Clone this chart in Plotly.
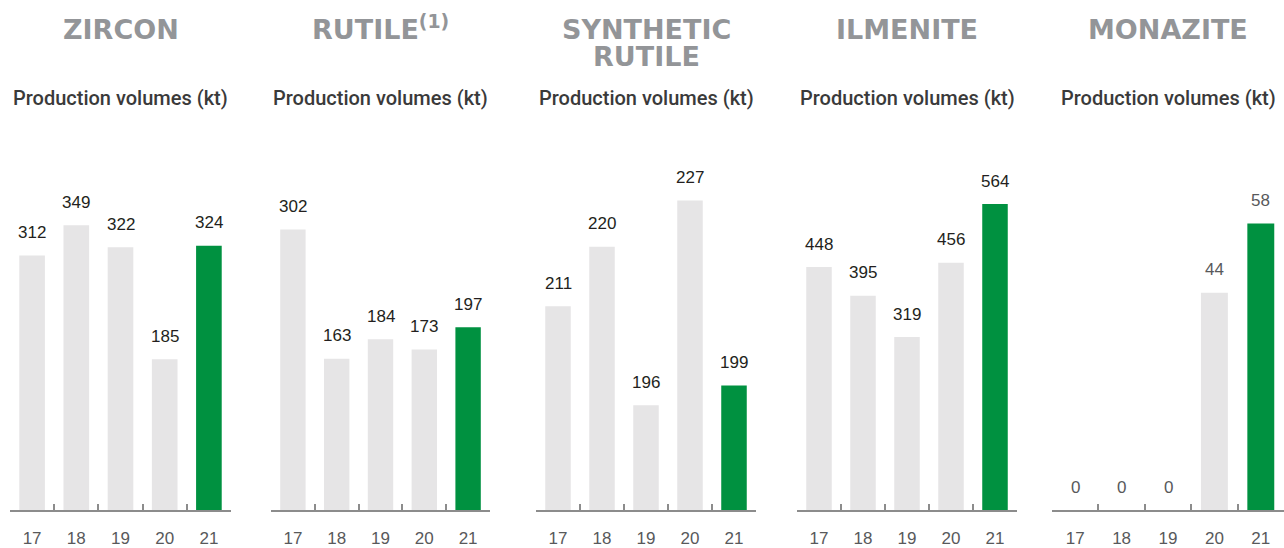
import plotly.graph_objects as go

# ---------------- data ----------------
years = ["17", "18", "19", "20", "21"]
zircon = [312, 349, 322, 185, 324]
rutile = [302, 163, 184, 173, 197]
synthetic_rutile = [211, 220, 196, 227, 199]
ilmenite = [448, 395, 319, 456, 564]
monazite = [0, 0, 0, 44, 58]
titles = ["ZIRCON", "RUTILE<sup>(1)</sup>", "SYNTHETIC<br>RUTILE", "ILMENITE", "MONAZITE"]
subtitle = "Production volumes (kt)"

series = [zircon, rutile, synthetic_rutile, ilmenite, monazite]

# ---------------- layout / style ----------------
W, H = 1284, 548
GREY_BAR = "#e6e5e6"
GREEN = "#009140"
AXIS_GREY = "#8c8c8c"
TITLE_GREY = "#939598"

panels_px = [(10, 231), (271, 490), (536, 756), (797, 1017), (1052, 1284)]
y_ranges = [[0, 431], [0, 378.7], [180.1, 233.4], [0, 648.4], [0, 71.2]]
label_colors = ["#231f20", "#231f20", "#231f20", "#231f20", "#58595b"]
plot_top_px, plot_bot_px = 160, 516
ydom = [(H - plot_bot_px) / H, (H - plot_top_px) / H]


def py(px):
    return (H - px) / H


fig = go.Figure()
annotations = []

for i, vals in enumerate(series):
    n = "" if i == 0 else str(i + 1)
    xa, ya = "x" + n, "y" + n
    colors = [GREY_BAR] * (len(years) - 1) + [GREEN]
    fig.add_trace(go.Bar(
        x=years, y=vals, xaxis=xa, yaxis=ya,
        marker=dict(color=colors, line=dict(width=0)),
        hoverinfo="skip", showlegend=False,
    ))
    x0, x1 = panels_px[i]
    fig.update_layout(**{
        "xaxis" + n: dict(
            domain=[x0 / W, x1 / W], anchor=ya, type="category",
            categoryorder="array", categoryarray=years,
            range=[-0.5, len(years) - 0.5], fixedrange=True,
            showline=True, linecolor=AXIS_GREY, linewidth=2,
            ticks="inside", tickson="boundaries", ticklen=6,
            tickcolor=AXIS_GREY, tickwidth=1.5, showgrid=False,
            tickfont=dict(family="Liberation Sans, Arial", size=17, color="#58595b"),
            ticklabelstandoff=11,
        ),
        "yaxis" + n: dict(
            domain=ydom, anchor=xa, range=y_ranges[i], visible=False,
            fixedrange=True,
        ),
    })
    # value labels (category index positions on the category axis)
    for k, v in enumerate(vals):
        annotations.append(dict(
            x=k, y=v, xref=xa, yref=ya, text=str(v), showarrow=False,
            yshift=23, yanchor="middle", xanchor="center",
            font=dict(family="Liberation Sans, Arial", size=17, color=label_colors[i]),
        ))
    cx = (x0 + x1) / 2 / W
    # title (bottom-anchored so baselines line up even with a superscript)
    t_lines = titles[i].split("<br>")
    for j, line in enumerate(t_lines):
        annotations.append(dict(
            x=cx, y=py(48 + 27 * j), xref="paper", yref="paper", text=line,
            showarrow=False, xanchor="center", yanchor="bottom",
            font=dict(family="DejaVu Sans", size=27, color=TITLE_GREY, weight="bold"),
        ))
    # subtitle
    annotations.append(dict(
        x=cx, y=py(99), xref="paper", yref="paper", text=subtitle,
        showarrow=False, xanchor="center", yanchor="middle",
        font=dict(family="Roboto", size=20, color="#3a3a3a", weight=500),
    ))

fig.update_layout(
    width=W, height=H, margin=dict(l=0, r=0, t=0, b=0),
    paper_bgcolor="white", plot_bgcolor="white",
    bargap=0.42, annotations=annotations, showlegend=False,
)

fig.write_html(
    "out.html",
    config={"displayModeBar": False, "staticPlot": False},
    post_script="document.body.style.margin='0';document.body.style.overflow='hidden';",
)
